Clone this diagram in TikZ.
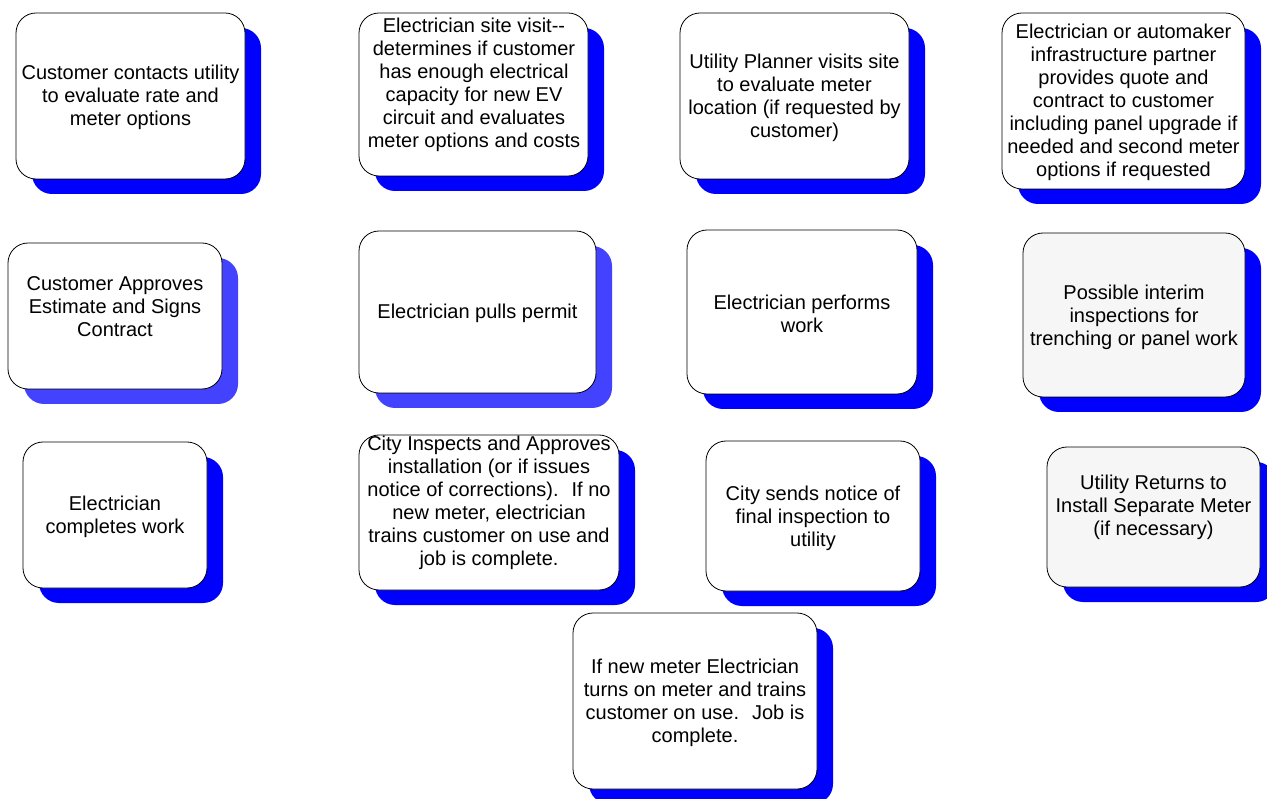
\documentclass[tikz,border=0pt]{standalone}
\usepackage{fontspec}
\setmainfont{Liberation Sans}
\usetikzlibrary{shadows}
\definecolor{shadeA}{HTML}{0000FF}
\definecolor{shadeB}{HTML}{4242FF}
\definecolor{dotfill}{HTML}{F6F6F6}
\begin{document}
\begin{tikzpicture}[x=1pt,y=-1pt,
  card/.style={draw=black, line width=0.8pt, rounded corners=20pt, fill=white,
    inner sep=0pt, outer sep=0pt,
    drop shadow={shadow xshift=16pt, shadow yshift=-15pt, opacity=1, fill=shadeA}},
  cardlight/.style={draw=black, line width=0.8pt, rounded corners=20pt, fill=white,
    inner sep=0pt, outer sep=0pt,
    drop shadow={shadow xshift=16pt, shadow yshift=-15pt, opacity=1, fill=shadeB}},
  dotted card/.style={card, fill=dotfill},
  txt/.style={align=center, font=\fontsize{20}{23}\selectfont, inner sep=0pt}]
\useasboundingbox (0,0) rectangle (1267,799);

% Row 1
\node[card, minimum width=229pt, minimum height=166pt] (a) at (130.5,96) {};
\node[txt] (ta) at (130.5,97) {Customer contacts utility\\to evaluate rate and\\meter options};

\node[card, minimum width=229pt, minimum height=163pt] (b) at (473.5,94.5) {};
\node[txt] (tb) at (474,84.5) {Electrician site visit-{}-\\determines if customer\\has enough electrical\\capacity for new EV\\circuit and evaluates\\meter options and costs};

\node[card, minimum width=229pt, minimum height=166pt] (c) at (794.5,96) {};
\node[txt] (tc) at (794.5,97.5) {Utility Planner visits site\\to evaluate meter\\location (if requested by\\customer)};

\node[card, minimum width=243pt, minimum height=176pt] (d) at (1123.5,101) {};
\node[txt] (td) at (1123.5,102.5) {Electrician or automaker\\infrastructure partner\\provides quote and\\contract to customer\\including panel upgrade if\\needed and second meter\\options if requested};

% Row 2
\node[cardlight, minimum width=214pt, minimum height=146pt] (e) at (115,316) {};
\node[txt] (te) at (115,306.5) {Customer Approves\\Estimate and Signs\\Contract};

\node[cardlight, minimum width=237pt, minimum height=162pt] (f) at (477.5,312) {};
\node[txt] (tf) at (477.5,313.5) {Electrician pulls permit};

\node[card, minimum width=230pt, minimum height=164pt] (g) at (802,312) {};
\node[txt] (tg) at (802,313.5) {Electrician performs\\work};

\node[dotted card, minimum width=222pt, minimum height=164pt] (h) at (1134,315) {};
\node[txt] (th) at (1134,317) {Possible interim\\inspections for\\trenching or panel work};

% Row 3
\node[card, minimum width=184pt, minimum height=146pt] (i) at (115,515) {};
\node[txt] (ti) at (115,517) {Electrician\\completes work};

\node[card, minimum width=260pt, minimum height=155pt] (j) at (489,512.5) {};
\node[txt] (tj) at (489,502.5) {City Inspects and Approves\\installation (or if issues\\notice of corrections).~ If no\\new meter, electrician\\trains customer on use and\\job is complete.};

\node[card, minimum width=214pt, minimum height=150pt] (k) at (813,516) {};
\node[txt] (tk) at (813,518) {City sends notice of\\final inspection to\\utility};

\node[dotted card, minimum width=213pt, minimum height=140pt] (l) at (1153.5,517) {};
\node[txt] (tl) at (1153.5,507) {Utility Returns to\\Install Separate Meter\\(if necessary)};

% Row 4
\node[card, minimum width=244pt, minimum height=176pt] (m) at (695,701) {};
\node[txt] (tm) at (695,702.5) {If new meter Electrician\\turns on meter and trains\\customer on use.~ Job is\\complete.};
\end{tikzpicture}
\end{document}
